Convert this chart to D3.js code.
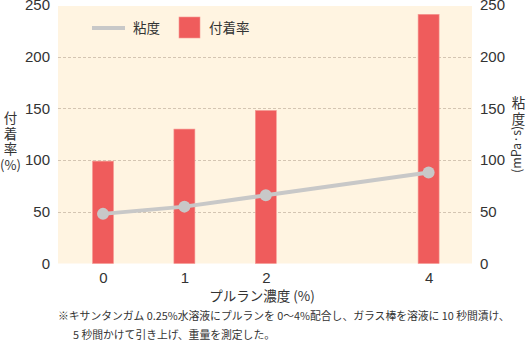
<!DOCTYPE html>
<html>
<head>
<meta charset="utf-8">
<script src="https://cdn.jsdelivr.net/npm/d3@7"></script>
<style>
  html, body { margin: 0; padding: 0; background: #fff; }
  svg text { font-family: "Liberation Sans", "Noto Sans CJK JP", sans-serif; fill: #333; }
  .jp { font-family: "Noto Sans CJK JP", sans-serif; }
</style>
</head>
<body>
<svg id="chart" width="527" height="342"></svg>
<script>
// Pullulan concentration (%) on the x axis
const concentrations = [0, 1, 2, 4];
// Adhesion rate (%) — bars, left axis
const adhesion = [99, 130, 148, 241];
// Viscosity (mPa·s) — line, right axis
const viscosity = [48, 55, 66, 88];
// Shared tick values for both vertical axes
const yTicks = [0, 50, 100, 150, 200, 250];
const xTicks = [0, 1, 2, 4];

const svg = d3.select("#chart");

const plot = { left: 58, right: 472, top: 6, bottom: 263.5 };

const x = d3.scaleLinear().domain([0, 4]).range([103, 428.6]);
const yL = d3.scaleLinear().domain([0, 250]).range([plot.bottom, 5]);
const yR = d3.scaleLinear().domain([0, 250]).range([plot.bottom, 5]);

// plot background
svg.append("rect")
  .attr("x", plot.left).attr("y", plot.top)
  .attr("width", plot.right - plot.left).attr("height", plot.bottom - plot.top)
  .attr("fill", "#fff4e1");

// dashed gridlines
svg.append("g").selectAll("line")
  .data(yTicks.filter(d => d > 0 && d < 250))
  .join("line")
  .attr("x1", plot.left).attr("x2", plot.right)
  .attr("y1", d => Math.round(yL(d)) + 0.5).attr("y2", d => Math.round(yL(d)) + 0.5)
  .attr("stroke", "#c9b9a6").attr("stroke-width", 0.8)
  .attr("stroke-dasharray", "3,2");

// adhesion bars
const barW = 21;
svg.append("g").selectAll("rect")
  .data(concentrations.map((c, i) => ({ c, v: adhesion[i] })))
  .join("rect")
  .attr("x", d => x(d.c) - barW / 2)
  .attr("y", d => yL(d.v))
  .attr("width", barW)
  .attr("height", d => plot.bottom - yL(d.v))
  .attr("fill", "#ef5c5c")
  .attr("stroke", "#f59a94").attr("stroke-width", 0.6);

// viscosity line
const pts = concentrations.map((c, i) => [x(c), yR(viscosity[i])]);
svg.append("path")
  .attr("d", d3.line()(pts))
  .attr("fill", "none")
  .attr("stroke", "#c8c8c8")
  .attr("stroke-width", 4);
svg.append("g").selectAll("circle")
  .data(pts)
  .join("circle")
  .attr("cx", d => d[0]).attr("cy", d => d[1])
  .attr("r", 6)
  .attr("fill", "#c8c8c8");

// left axis
const leftAxis = d3.axisLeft(yL).tickValues(yTicks).tickSize(0).tickPadding(8);
const gL = svg.append("g").attr("transform", `translate(${plot.left},0)`).call(leftAxis);
gL.select(".domain").remove();
gL.selectAll("text").style("font-size", "15px").attr("fill", "#333");

// right axis
const rightAxis = d3.axisRight(yR).tickValues(yTicks).tickSize(0).tickPadding(8);
const gR = svg.append("g").attr("transform", `translate(${plot.right},0)`).call(rightAxis);
gR.select(".domain").remove();
gR.selectAll("text").style("font-size", "15px").attr("fill", "#333");

// bottom axis
const bottomAxis = d3.axisBottom(x).tickValues(xTicks).tickSize(0).tickPadding(9).tickFormat(d3.format("d"));
const gB = svg.append("g").attr("transform", `translate(0,${plot.bottom})`).call(bottomAxis);
gB.select(".domain").remove();
gB.selectAll("text").style("font-size", "15px").attr("fill", "#333");

// left axis title, stacked vertically
["付", "着", "率"].forEach((ch, i) => {
  svg.append("text").attr("class", "jp")
    .attr("x", 10.5).attr("y", 123 + i * 15.5)
    .attr("text-anchor", "middle").style("font-size", "13.5px").text(ch);
});
svg.append("text").attr("class", "jp")
  .attr("x", 10.5).attr("y", 170)
  .attr("text-anchor", "middle").style("font-size", "13px").text("(%)");

// right axis title: stacked kanji, unit turned to read upward
["粘", "度"].forEach((ch, i) => {
  svg.append("text").attr("class", "jp")
    .attr("x", 518.5).attr("y", 108 + i * 15.5)
    .attr("text-anchor", "middle").style("font-size", "13.5px").text(ch);
});
svg.append("text").attr("class", "jp")
  .attr("transform", "translate(521,173) rotate(-90)")
  .attr("text-anchor", "start").style("font-size", "12.5px").text("(mPa·s)");

// x axis title
svg.append("text").attr("class", "jp")
  .attr("x", 262).attr("y", 301)
  .attr("text-anchor", "middle").style("font-size", "13.5px").text("プルラン濃度 (%)");

// legend
svg.append("line")
  .attr("x1", 92).attr("x2", 125).attr("y1", 28).attr("y2", 28)
  .attr("stroke", "#c8c8c8").attr("stroke-width", 4);
svg.append("text").attr("class", "jp")
  .attr("x", 133).attr("y", 33).style("font-size", "13.5px").text("粘度");
svg.append("rect")
  .attr("x", 179).attr("y", 17).attr("width", 21).attr("height", 21)
  .attr("fill", "#ef5c5c").attr("stroke", "#f59a94").attr("stroke-width", 0.6);
svg.append("text").attr("class", "jp")
  .attr("x", 209).attr("y", 33).style("font-size", "13.5px").text("付着率");

// footnote: first line fitted to span the width of the plot block
const note1 = svg.append("text").attr("class", "jp")
  .attr("x", 58).attr("y", 320).style("font-size", "11.4px")
  .text("※キサンタンガム 0.25%水溶液にプルランを 0〜4%配合し、ガラス棒を溶液に 10 秒間漬け、");
const maxW = 452;
const w1 = note1.node().getComputedTextLength();
const noteSize = w1 > maxW ? 11.4 * maxW / w1 : 11.4;
note1.style("font-size", noteSize + "px");
svg.append("text").attr("class", "jp")
  .attr("x", 73).attr("y", 339).style("font-size", noteSize + "px")
  .text("5 秒間かけて引き上げ、重量を測定した。");
</script>
</body>
</html>
